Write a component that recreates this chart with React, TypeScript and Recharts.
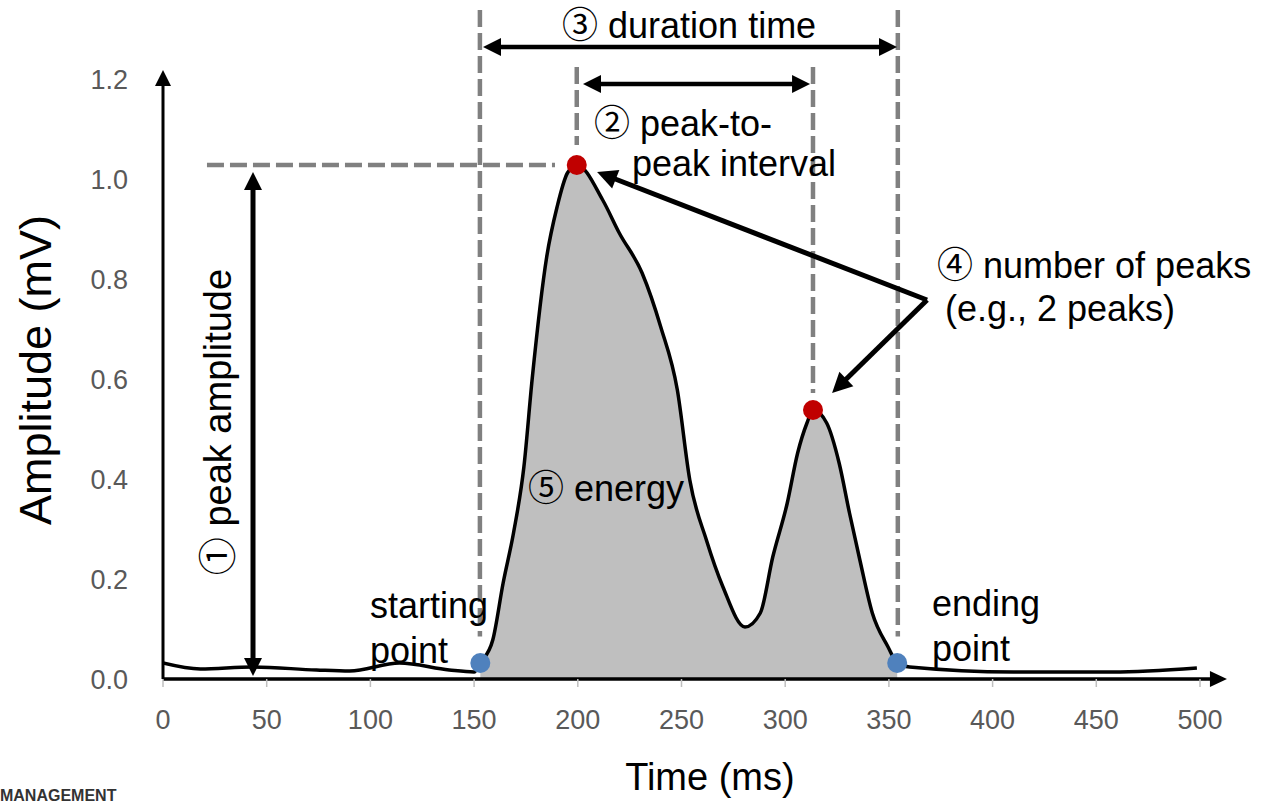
import React from 'react';
import { ComposedChart, Line, Area, XAxis, YAxis, ReferenceLine, ReferenceDot } from 'recharts';

// ---- data ----
const timeMs = [0, 18, 43, 74, 90, 114, 138, 150, 153, 159, 164, 169, 174, 178, 185, 190, 195, 199.5, 212, 220, 231, 240, 248, 254, 262, 270, 280.6, 288, 294, 301, 306, 310.5, 313.4, 320, 326, 331, 336, 342, 349.6, 354, 360, 410, 458, 498.5];
const amplitudeMv = [0.032, 0.02, 0.024, 0.018, 0.016, 0.032, 0.018, 0.014, 0.032, 0.078, 0.192, 0.292, 0.424, 0.6, 0.844, 0.944, 1.012, 1.028, 0.958, 0.892, 0.812, 0.704, 0.578, 0.398, 0.278, 0.184, 0.104, 0.132, 0.244, 0.352, 0.452, 0.512, 0.538, 0.512, 0.432, 0.332, 0.238, 0.132, 0.064, 0.032, 0.024, 0.014, 0.014, 0.022];
const eventStart = 153;
const eventEnd = 354;
const peakTimes = [199.5, 313.4];
const peakAmps = [1.028, 0.538];
const boundaryTimes = [153, 354];
const boundaryAmps = [0.032, 0.032];
const xTicks = [0, 50, 100, 150, 200, 250, 300, 350, 400, 450, 500];
const yTicks = [0, 0.2, 0.4, 0.6, 0.8, 1.0, 1.2];

const data = timeMs.map((t, i) => ({
  t,
  v: amplitudeMv[i],
  e: t >= eventStart && t <= eventEnd ? amplitudeMv[i] : null,
}));

const FONT = "'Liberation Sans', Arial, 'Noto Sans CJK JP', sans-serif";

type ArrowOpts = { start?: boolean; end?: boolean; w: number; head: number; hw: number; color: string };
const arrowShape = (o: ArrowOpts) => (p: any) => {
  const { x1, y1, x2, y2 } = p;
  const dx = x2 - x1, dy = y2 - y1;
  const len = Math.hypot(dx, dy) || 1;
  const ux = dx / len, uy = dy / len;
  const nx = -uy, ny = ux;
  let sx = x1, sy = y1, ex = x2, ey = y2;
  const heads: any[] = [];
  if (o.start) {
    sx = x1 + ux * o.head * 0.8; sy = y1 + uy * o.head * 0.8;
    const bx = x1 + ux * o.head, by = y1 + uy * o.head;
    heads.push(<polygon key="s" points={`${x1},${y1} ${bx + nx * o.hw},${by + ny * o.hw} ${bx - nx * o.hw},${by - ny * o.hw}`} fill={o.color} />);
  }
  if (o.end) {
    ex = x2 - ux * o.head * 0.8; ey = y2 - uy * o.head * 0.8;
    const bx = x2 - ux * o.head, by = y2 - uy * o.head;
    heads.push(<polygon key="e" points={`${x2},${y2} ${bx + nx * o.hw},${by + ny * o.hw} ${bx - nx * o.hw},${by - ny * o.hw}`} fill={o.color} />);
  }
  return (
    <g>
      <line x1={sx} y1={sy} x2={ex} y2={ey} stroke={o.color} strokeWidth={o.w} />
      {heads}
    </g>
  );
};

const arrow = (key: string, a: [number, number], b: [number, number], o: ArrowOpts) => (
  <ReferenceLine
    key={key}
    segment={[{ x: a[0], y: a[1] }, { x: b[0], y: b[1] }]}
    ifOverflow="visible"
    shape={arrowShape(o)}
  />
);

const dashed = (key: string, a: [number, number], b: [number, number]) => (
  <ReferenceLine
    key={key}
    segment={[{ x: a[0], y: a[1] }, { x: b[0], y: b[1] }]}
    ifOverflow="visible"
    stroke="#808080"
    strokeWidth={4.5}
    strokeDasharray="17 6"
  />
);

const note = (
  key: string,
  x: number,
  y: number,
  text: string,
  opts: { size?: number; anchor?: 'start' | 'middle' | 'end'; rotate?: boolean; color?: string; weight?: string } = {}
) => (
  <ReferenceDot
    key={key}
    x={x}
    y={y}
    r={0}
    ifOverflow="visible"
    shape={(p: any) => (
      <text
        x={p.cx}
        y={p.cy}
        fontFamily={FONT}
        fontSize={opts.size ?? 36}
        fontWeight={opts.weight ?? 'normal'}
        fill={opts.color ?? '#000'}
        textAnchor={opts.anchor ?? 'start'}
        dominantBaseline="central"
        transform={opts.rotate ? `rotate(-90 ${p.cx} ${p.cy})` : undefined}
      >
        {text}
      </text>
    )}
  />
);

const bigDot = (key: string, x: number, y: number, color: string) => (
  <ReferenceDot key={key} x={x} y={y} r={10} fill={color} stroke="none" ifOverflow="visible" />
);

export default function App() {
  return (
    <div style={{ position: 'absolute', left: 0, top: 0, width: 1265, height: 804, background: '#fff', overflow: 'hidden' }}>
      <ComposedChart width={1265} height={804} data={data} margin={{ top: 79, right: 65, bottom: 0, left: 0 }}>
        <XAxis
          dataKey="t"
          type="number"
          domain={[0, 500]}
          ticks={xTicks}
          interval={0}
          allowDataOverflow
          axisLine={false}
          tickLine={{ stroke: '#bfbfbf', strokeWidth: 1.5 }}
          tickSize={8}
          tickMargin={23}
          height={125}
          tick={{ fill: '#595959', fontSize: 27, fontFamily: FONT }}
        />
        <YAxis
          type="number"
          domain={[0, 1.2]}
          ticks={yTicks}
          interval={0}
          allowDataOverflow
          axisLine={false}
          tickLine={false}
          tickSize={0}
          tickMargin={35}
          width={163}
          tickFormatter={(v: number) => v.toFixed(1)}
          tick={{ fill: '#595959', fontSize: 27, fontFamily: FONT }}
        />
        <Area
          dataKey="e"
          type="monotone"
          fill="#bfbfbf"
          fillOpacity={1}
          stroke="none"
          connectNulls={false}
          isAnimationActive={false}
          dot={false}
          activeDot={false}
        />
        <Line
          dataKey="v"
          type="monotone"
          stroke="#000"
          strokeWidth={3.5}
          dot={false}
          activeDot={false}
          isAnimationActive={false}
        />

        {/* axes with arrows */}
        {arrow('yaxis', [0, 0], [0, 1.218], { end: true, w: 3, head: 16, hw: 8, color: '#000' })}
        {arrow('xaxis', [0, 0], [513, 0], { end: true, w: 3.5, head: 17, hw: 8, color: '#000' })}

        {/* dashed guides */}
        {dashed('d1', [152.8, 1.338], [152.8, 0.085])}
        {dashed('d2', [199.5, 1.224], [199.5, 1.068])}
        {dashed('d3', [313.4, 1.224], [313.4, 0.572])}
        {dashed('d4', [354.3, 1.338], [354.3, 0.085])}
        {dashed('d5', [21.2, 1.028], [189, 1.028])}

        {/* annotation arrows */}
        {arrow('dur', [154.3, 1.264], [353.9, 1.264], { start: true, end: true, w: 4.5, head: 18, hw: 9, color: '#000' })}
        {arrow('p2p', [202.5, 1.19], [312, 1.19], { start: true, end: true, w: 4.5, head: 18, hw: 9, color: '#000' })}
        {arrow('amp', [43.4, 0.006], [43.4, 1.014], { start: true, end: true, w: 5, head: 18, hw: 9, color: '#000' })}
        {arrow('np1', [368.4, 0.758], [209.3, 1.014], { end: true, w: 5, head: 20, hw: 10, color: '#000' })}
        {arrow('np2', [368.4, 0.758], [322.6, 0.572], { end: true, w: 5, head: 20, hw: 10, color: '#000' })}

        {/* peak and boundary dots */}
        {peakTimes.map((t, i) => bigDot(`pk${i}`, t, peakAmps[i], '#c00000'))}
        {boundaryTimes.map((t, i) => bigDot(`bd${i}`, t, boundaryAmps[i], '#4f81bd'))}

        {/* text annotations */}
        {note('n3', 192.4, 1.308, '③ duration time')}
        {note('n2a', 207.8, 1.112, '② peak-to-')}
        {note('n2b', 226.1, 1.032, 'peak interval')}
        {note('n4a', 373.2, 0.828, '④ number of peaks')}
        {note('n4b', 377, 0.742, '(e.g., 2 peaks)')}
        {note('n5', 176, 0.382, '⑤ energy')}
        {note('s1', 99.8, 0.148, 'starting')}
        {note('s2', 99.8, 0.058, 'point')}
        {note('e1', 370.8, 0.152, 'ending')}
        {note('e2', 370.8, 0.062, 'point')}
        {note('n1', 26.5, 0.514, '① peak amplitude', { anchor: 'middle', rotate: true, size: 38 })}
        {note('xt', 263.7, -0.196, 'Time (ms)', { anchor: 'middle', size: 38 })}
        {note('yt', -61.7, 0.618, 'Amplitude (mV)', { anchor: 'middle', size: 45, rotate: true })}
        {note('wm', -78.6, -0.232, 'MANAGEMENT', { size: 16, weight: 'bold', color: '#333' })}
      </ComposedChart>
    </div>
  );
}
